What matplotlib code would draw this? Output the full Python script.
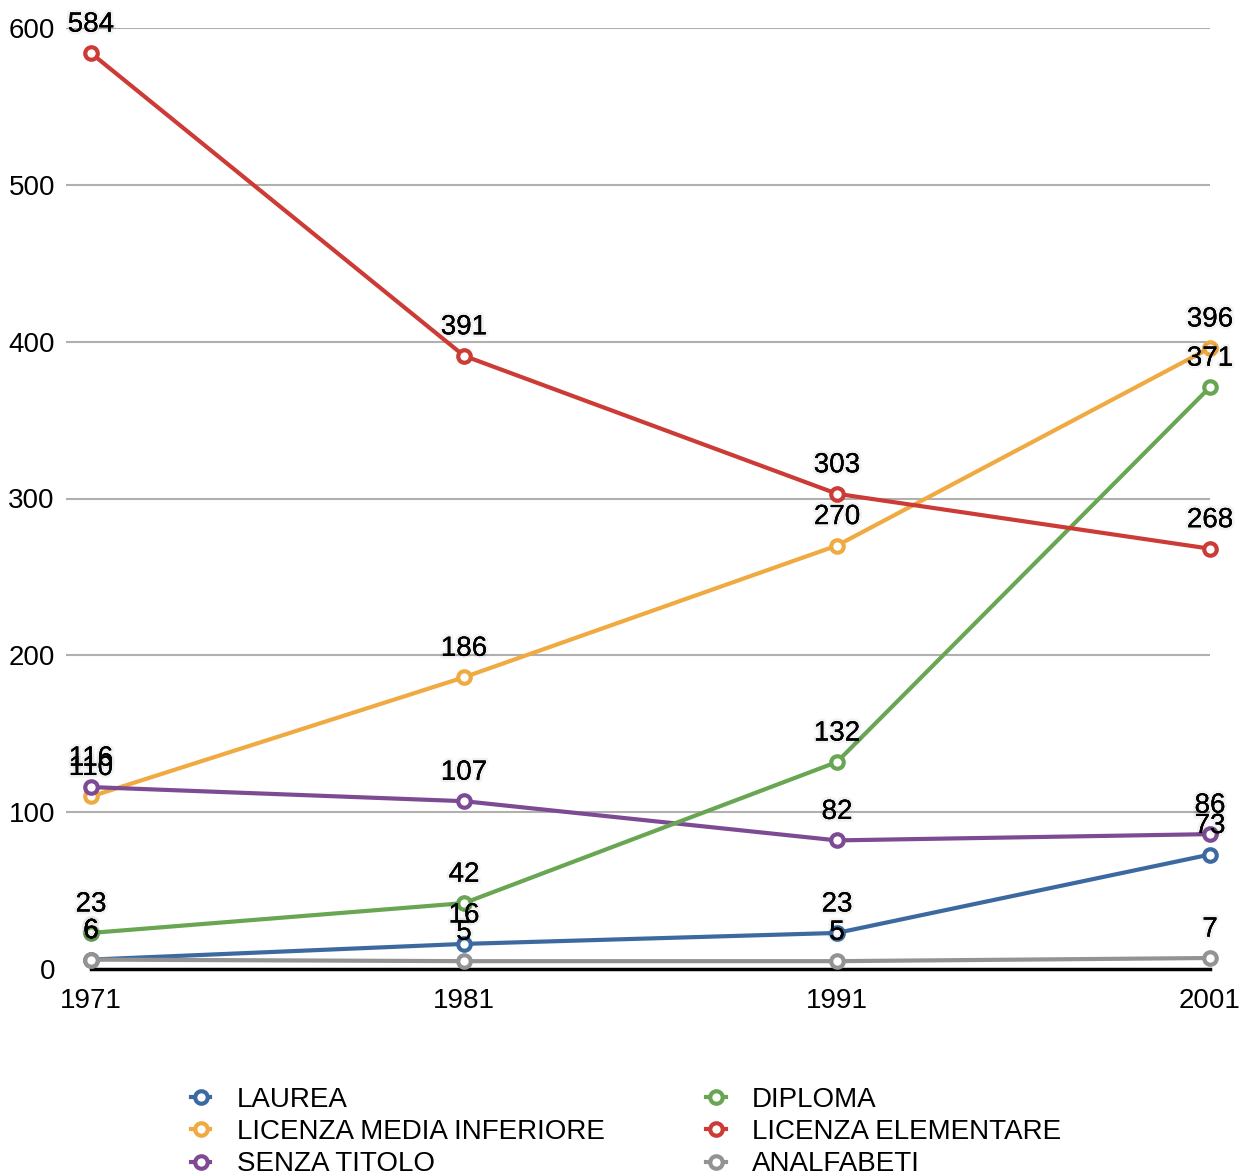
import matplotlib
matplotlib.use("Agg")
import matplotlib.pyplot as plt
import matplotlib.patheffects as pe

plt.rcParams['font.family'] = ['Liberation Sans', 'DejaVu Sans']

years = [1971, 1981, 1991, 2001]
laurea = [6, 16, 23, 73]
diploma = [23, 42, 132, 371]
licenza_media = [110, 186, 270, 396]
licenza_elementare = [584, 391, 303, 268]
senza_titolo = [116, 107, 82, 86]
analfabeti = [6, 5, 5, 7]

series = [
    ("LAUREA", laurea, "#3c6aa0"),
    ("LICENZA MEDIA INFERIORE", licenza_media, "#efaa42"),
    ("SENZA TITOLO", senza_titolo, "#7d4b94"),
    ("DIPLOMA", diploma, "#68a653"),
    ("LICENZA ELEMENTARE", licenza_elementare, "#cc3b36"),
    ("ANALFABETI", analfabeti, "#939393"),
]
yticks = [0, 100, 200, 300, 400, 500, 600]

fig = plt.figure(figsize=(12.4, 11.73), dpi=100)
ax = fig.add_axes([66/1240, 1-969/1173, (1210-66)/1240, (969-28)/1173])
ax.set_xlim(1971 - 25/37.3, 2001)
ax.set_ylim(0, 600)

for y in yticks[1:]:
    ax.axhline(y, color="#b0b0b0", lw=1.5, zorder=0)

fs = 20
handles = []
for name, vals, col in series:
    h, = ax.plot(years, vals, color=col, lw=3, marker='o', ms=9,
                 mfc='white', mec=col, mew=3, label=name, zorder=3,
                 clip_on=False)
    handles.append(h)
    for x, v in zip(years, vals):
        t = ax.annotate(str(v), (x, v), xytext=(0, 20.5), textcoords='offset points',
                        ha='center', va='center', fontsize=fs, color='black',
                        zorder=5, annotation_clip=False)
        t.set_path_effects([pe.withStroke(linewidth=4, foreground=(0, 0, 0, 0.05)),
                            pe.Normal()])

for s in ['top', 'right', 'left']:
    ax.spines[s].set_visible(False)
ax.spines['bottom'].set_bounds(1971, 2001)
ax.spines['bottom'].set_linewidth(2.5)
ax.spines['bottom'].set_zorder(2)
ax.set_xticks(years)
ax.set_xticklabels([str(y) for y in years], fontsize=fs)
ax.set_yticks(yticks)
ax.set_yticklabels([str(y) for y in yticks], fontsize=fs)
ax.tick_params(axis='both', length=0)
ax.tick_params(axis='x', pad=14)
ax.tick_params(axis='y', pad=8)

leg = fig.legend(handles=handles, loc='upper left', ncol=2,
                 bbox_to_anchor=(191/1240, 1-1087/1173), frameon=False,
                 fontsize=fs, handlelength=0.7, handletextpad=0.95,
                 columnspacing=3.65, labelspacing=0.22, borderpad=0,
                 borderaxespad=0)

fig.savefig("out.png", dpi=100)
